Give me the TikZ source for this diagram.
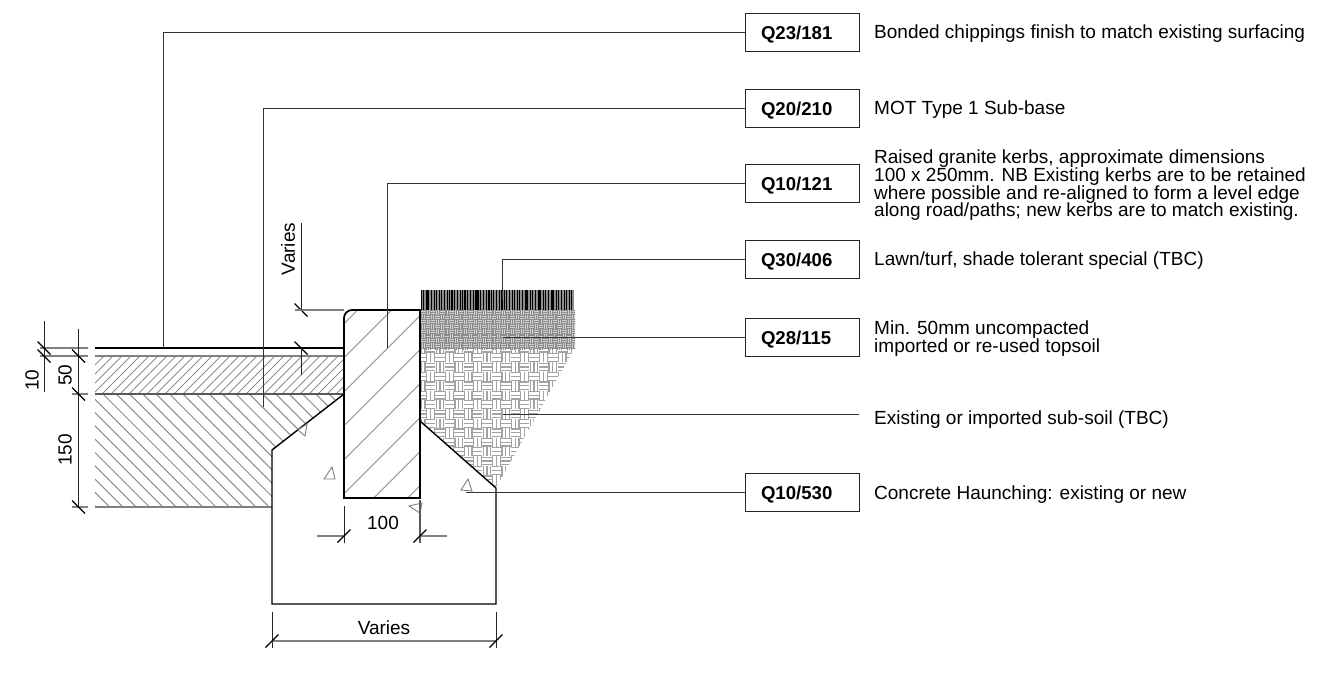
\documentclass[tikz,border=0pt]{standalone}
\usepackage{fontspec}
\setmainfont{Liberation Sans}
\setlength{\normallineskiplimit}{-20pt}
\setlength{\lineskiplimit}{-20pt}
\newcommand{\basketweave}[6]{% x0, y0, tile, columns, rows, line spacing
  \foreach \i in {0,...,#4}{
    \foreach \j in {0,...,#5}{
      \pgfmathtruncatemacro{\parity}{mod(\i+\j,2)}
      \pgfmathsetmacro{\tx}{#1+\i*#3}
      \pgfmathsetmacro{\ty}{#2+\j*#3}
      \foreach \k in {0,1,2}{
        \ifnum\parity=0
          \draw (\tx,\ty+\k*#6+#6/4) -- (\tx+#3,\ty+\k*#6+#6/4);
        \else
          \draw (\tx+\k*#6+#6/4,\ty) -- (\tx+\k*#6+#6/4,\ty+#3);
        \fi
      }
    }
  }
}
\tikzset{
  refbox/.style={draw=black!85,line width=1pt,inner xsep=16pt,text width=82pt,align=left,minimum height=38pt,inner ysep=0pt,text height=15pt,text depth=0.3pt,font=\fontsize{18.6}{20}\selectfont\bfseries},
  note/.style={anchor=west,inner sep=0pt,align=left,font=\fontsize{19}{17.7}\selectfont},
  dimtext/.style={inner sep=0pt,font=\fontsize{19}{20}\selectfont},
  leader/.style={draw=black!80,line width=1pt},
  dimline/.style={draw=black!85,line width=1pt},
  extline/.style={draw=black!50,line width=1.2pt},
  dimtick/.style={draw=black,line width=1.1pt},
  hatchline/.style={draw=black!45,line width=1pt},
  outline/.style={draw=black,line width=1.7pt},
  wedge/.style={draw=black!50,line width=.9pt,fill=white},
}
\begin{document}
\begin{tikzpicture}[x=1pt,y=-1pt]
  \useasboundingbox (0,0) rectangle (1335,675);

  % road layers
  \begin{scope}
    \clip (95,356) rectangle (344,394);
    \foreach \h in {95,104,...,390}
      \draw[hatchline] (\h-38,394) -- (\h,356);
  \end{scope}
  \begin{scope}
    \clip (95,394) -- (344,394) -- (272,450) -- (272,507) -- (95,507) -- cycle;
    \foreach \h in {-30,-16.7,...,345}
      \draw[hatchline] (\h,394) -- (\h+113,507);
  \end{scope}

  % kerb hatch
  \begin{scope}
    \clip (344,498) -- (344,318) .. controls (344,313.6) and (347.6,310) .. (352,310) -- (420,310) -- (420,498) -- cycle;
    \foreach \h in {667.7,701.7,...,906}
      \draw[hatchline] (\h-310,310) -- (\h-498,498);
  \end{scope}

  % sub-soil
  \begin{scope}[draw=black!36,line width=1.2pt]
    \clip (421,349) -- (574,349) -- (496,488) -- (421,421) -- cycle;
    \basketweave{416.5}{334.1}{9.4}{17}{17}{3.8}
  \end{scope}

  % topsoil
  \fill[black!18] (421,310) rectangle (575,349);
  \begin{scope}[draw=black!45,line width=.9pt]
    \clip (421,310) rectangle (575,349);
    \basketweave{421}{310}{4.7}{33}{8}{1.9}
  \end{scope}

  % turf
  \fill[black!45] (421,290) rectangle (574,310);
  \foreach \t in {421,423.6,...,574}
    \draw[black,line width=.8pt] (\t,290) -- (\t,310);
  \foreach \t in {427,439.5,...,574}
    \draw[black,line width=1.5pt] (\t,290) -- (\t,310);

  % surfaces
  \draw[outline,line width=1.5pt] (95,348) -- (344,348);
  \draw[extline] (95,356) -- (344,356);
  \draw[extline,draw=black!65] (95,394) -- (344,394);
  \draw[extline] (95,507) -- (272,507);

  % concrete haunching and kerb
  \draw[outline,line width=1.4pt,line join=miter] (344,394) -- (272,450) -- (272,604) -- (496,604) -- (496,488) -- (420,421);
  \draw[outline] (344,498) -- (344,318) .. controls (344,313.6) and (347.6,310) .. (352,310) -- (420,310) -- (420,498) -- cycle;

  % aggregate marks
  \draw[wedge] (307,424) -- (298,430) -- (305,436) -- cycle;
  \draw[wedge] (332,467) -- (324,479) -- (335,479) -- cycle;
  \draw[wedge] (409,506) -- (422,503) -- (420,513) -- cycle;
  \draw[wedge] (468,479) -- (461,490) -- (472,491) -- cycle;

  % reference boxes
  \node[refbox] (q23) at (802,32.5) {Q23/181};
  \node[refbox] (q20) at (802,108) {Q20/210};
  \node[refbox] (q10a) at (802,183) {Q10/121};
  \node[refbox] (q30) at (802,259) {Q30/406};
  \node[refbox] (q28) at (802,337) {Q28/115};
  \node[refbox] (q10b) at (802,492.5) {Q10/530};

  % notes
  \node[note] (chippings) at (874,34) {Bonded chippings finish to match existing surfacing};
  \node[note] (subbase) at (874,110) {MOT Type 1 Sub-base};
  \node[note] (kerbs) at (874,185.5) {Raised granite kerbs, approximate dimensions\\100 x 250mm. NB Existing kerbs are to be retained\\where possible and re-aligned to form a level edge\\along road/paths; new kerbs are to match existing.};
  \node[note] (lawn) at (874,261) {Lawn/turf, shade tolerant special (TBC)};
  \node[note] (topsoil) at (874,338.5) {Min. 50mm uncompacted\\imported or re-used topsoil};
  \node[note] (subsoil) at (874,420) {Existing or imported sub-soil (TBC)};
  \node[note] (haunch) at (874,495) {Concrete Haunching: existing or new};

  % leaders
  \coordinate (q23end) at (163,348);
  \coordinate (q20end) at (263,407);
  \coordinate (q10aend) at (387,348);
  \coordinate (q30end) at (502,300);
  \coordinate (q28end) at (503,337);
  \coordinate (q10bend) at (466,492.5);
  \coordinate (soilstart) at (859,414);
  \coordinate (soilend) at (503,414);
  \draw[leader] (q23.west) -| (q23end);
  \draw[leader] (q20.west) -| (q20end);
  \draw[leader] (q10a.west) -| (q10aend);
  \draw[leader] (q30.west) -| (q30end);
  \draw[leader] (q28.west) -- (q28end);
  \draw[leader] (q10b.west) -- (q10bend);
  \draw[leader] (soilstart) -- (soilend);

  % dimensions on the left
  \draw[extline] (40,348) -- (88,348);
  \draw[extline] (40,356) -- (88,356);
  \draw[extline] (72,394) -- (88,394);
  \draw[extline] (72,507) -- (88,507);
  \draw[dimline] (44,321) -- (44,392);
  \draw[dimline] (78.5,329) -- (78.5,507);
  \foreach \x/\y in {44/348,44/356,78.5/356,78.5/394,78.5/507,301/310,301/348}
    \draw[dimtick] (\x-6.5,\y-6.5) -- (\x+6.5,\y+6.5);
  \node[dimtext,rotate=90] (dimten) at (32,380) {10};
  \node[dimtext,rotate=90] (dimfifty) at (65,375) {50};
  \node[dimtext,rotate=90] (dimonefifty) at (65,450) {150};

  % level difference at the kerb
  \draw[extline] (295,310) -- (344,310);
  \draw[dimline] (301,223) -- (301,310);
  \draw[dimline] (301,348) -- (301,375);
  \node[dimtext,rotate=90] (dimkerb) at (288,249) {Varies};

  % dimensions below
  \draw[dimline] (344,506) -- (344,543);
  \draw[extline,draw=black!65] (420,500) -- (420,543);
  \draw[extline] (317,536) -- (344,536);
  \draw[extline] (420,536) -- (447,536);
  \draw[dimline] (272,612) -- (272,648);
  \draw[dimline] (496,612) -- (496,648);
  \draw[extline] (272,641) -- (496,641);
  \foreach \x/\y in {344/536,420/536,272/641,496/641}
    \draw[dimtick] (\x-6.5,\y+6.5) -- (\x+6.5,\y-6.5);
  \node[dimtext] (dimwidth) at (383,523) {100};
  \node[dimtext] (dimbase) at (384,628) {Varies};
\end{tikzpicture}
\end{document}
